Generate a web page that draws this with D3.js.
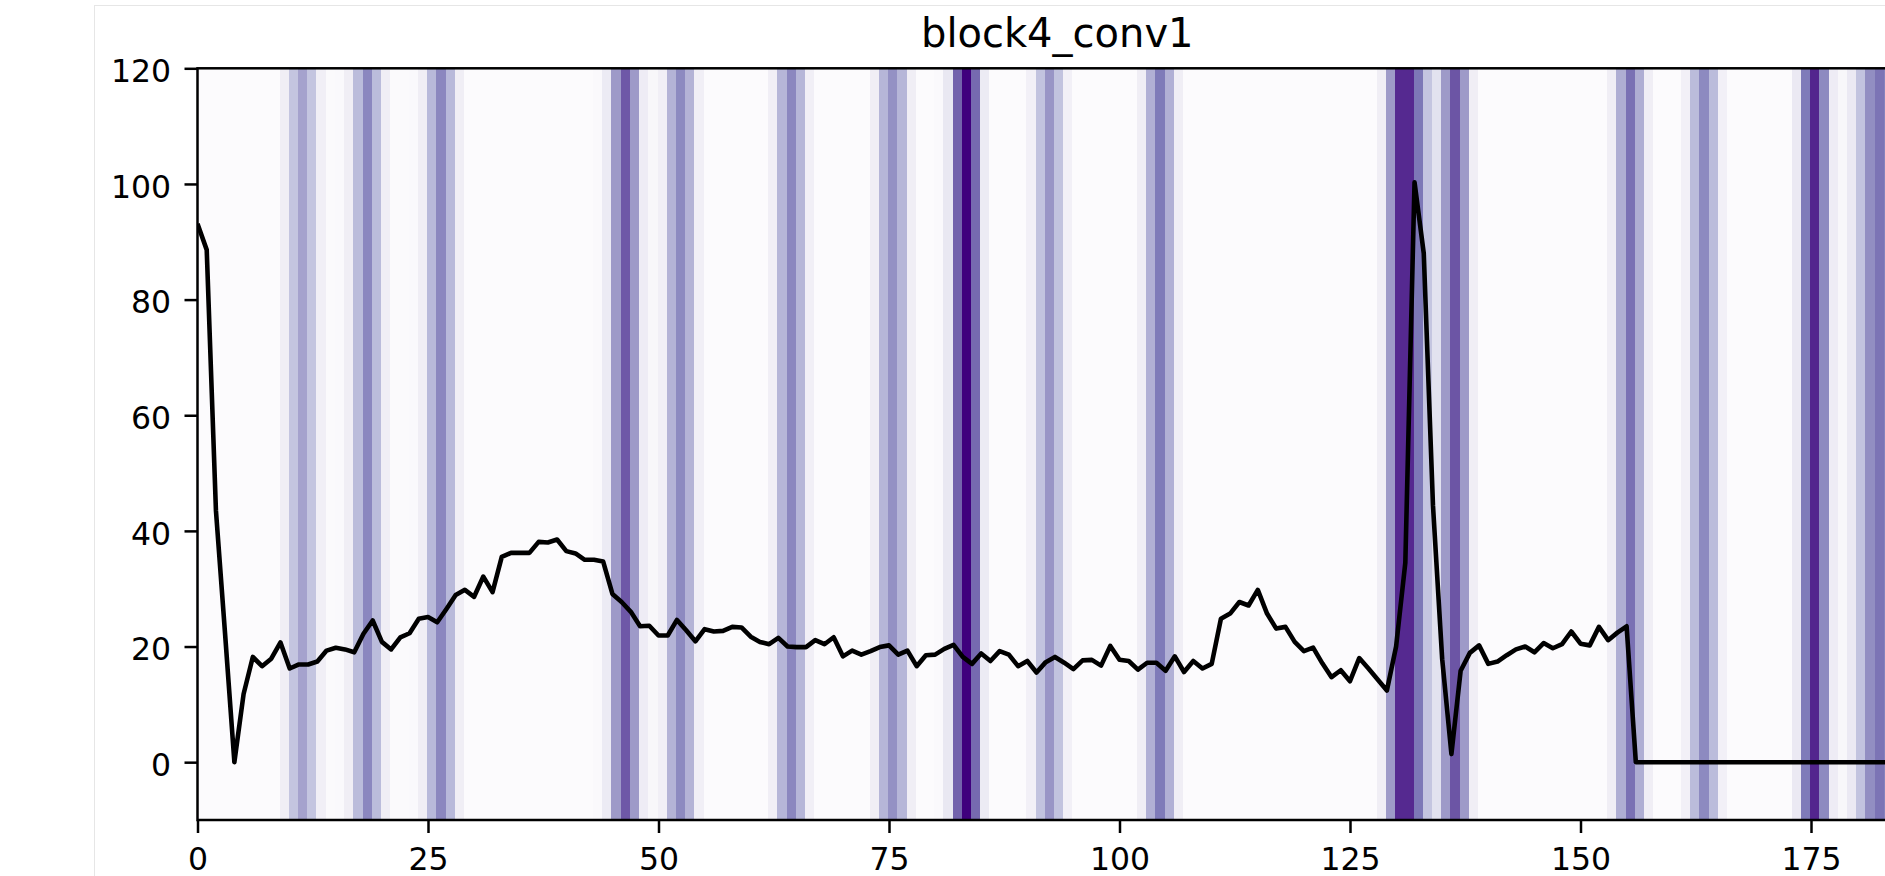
<!DOCTYPE html>
<html>
<head>
<meta charset="utf-8">
<script src="https://cdn.jsdelivr.net/npm/d3@7"></script>
<style>
  body { margin: 0; background: #ffffff; }
  svg { display: block; }
  text { font-family: "DejaVu Sans", sans-serif; }
</style>
</head>
<body>
<div id="grafico"></div>
<script>
// Titulo del grafico
var title = "block4_conv1";

// Ticks de los ejes
var xTicks = [0, 25, 50, 75, 100, 125, 150, 175];
var yTicks = [0, 20, 40, 60, 80, 100, 120];

// Senal (un valor por muestra, 187 muestras)
var signal = [
  93.1, 88.6, 43.5, 22.0, 0.0, 11.8, 18.2, 16.6, 17.9, 20.7,
  16.2, 16.9, 16.9, 17.4, 19.3, 19.8, 19.5, 19.0, 22.2, 24.5,
  20.8, 19.5, 21.6, 22.3, 24.8, 25.1, 24.2, 26.5, 28.9, 29.8,
  28.6, 32.1, 29.4, 35.5, 36.2, 36.2, 36.2, 38.1, 38.0, 38.5,
  36.5, 36.1, 35.0, 35.0, 34.7, 29.1, 27.7, 26.0, 23.5, 23.6,
  21.9, 21.9, 24.6, 22.8, 20.9, 23.0, 22.6, 22.7, 23.4, 23.3,
  21.7, 20.8, 20.4, 21.5, 20.0, 19.9, 19.9, 21.1, 20.4, 21.6,
  18.3, 19.3, 18.6, 19.2, 19.9, 20.2, 18.6, 19.3, 16.6, 18.5,
  18.6, 19.6, 20.3, 18.2, 17.0, 18.8, 17.5, 19.2, 18.6, 16.6,
  17.5, 15.5, 17.3, 18.2, 17.2, 16.1, 17.6, 17.7, 16.7, 20.1,
  17.7, 17.5, 16.0, 17.2, 17.2, 15.8, 18.3, 15.6, 17.5, 16.2,
  17.0, 24.8, 25.7, 27.7, 27.1, 29.8, 25.7, 23.1, 23.4, 20.8,
  19.2, 19.8, 17.1, 14.7, 15.9, 14.0, 18.0, 16.2, 14.3, 12.4,
  20.0, 34.5, 100.3, 88.0, 44.4, 17.8, 1.4, 15.8, 18.9, 20.2,
  17.0, 17.4, 18.5, 19.5, 20.0, 19.0, 20.6, 19.7, 20.4, 22.6,
  20.5, 20.2, 23.4, 21.1, 22.4, 23.5, 0.0, 0.0, 0.0, 0.0,
  0.0, 0.0, 0.0, 0.0, 0.0, 0.0, 0.0, 0.0, 0.0, 0.0,
  0.0, 0.0, 0.0, 0.0, 0.0, 0.0, 0.0, 0.0, 0.0, 0.0,
  0.0, 0.0, 0.0, 0.0, 0.0, 0.0, 0.0
];

// Mapa de calor (activacion 0..1 por muestra)
var heat = [
  0, 0, 0, 0, 0, 0, 0, 0, 0, 0.12,
  0.34, 0.47, 0.34, 0.11, 0.01, 0.02, 0.12, 0.38, 0.58, 0.38,
  0.12, 0.01, 0.01, 0.02, 0.12, 0.39, 0.58, 0.39, 0.12, 0,
  0, 0, 0, 0, 0, 0, 0, 0, 0, 0,
  0, 0, 0, 0.02, 0.14, 0.5, 0.73, 0.5, 0.13, 0.04,
  0.11, 0.41, 0.57, 0.41, 0.11, 0, 0, 0, 0, 0,
  0, 0, 0.11, 0.4, 0.58, 0.4, 0.11, 0, 0, 0,
  0, 0, 0, 0.12, 0.4, 0.54, 0.4, 0.12, 0, 0,
  0.02, 0.16, 0.7, 1.0, 0.68, 0.14, 0, 0, 0, 0,
  0.1, 0.35, 0.52, 0.35, 0.1, 0, 0, 0, 0, 0,
  0, 0, 0.12, 0.42, 0.63, 0.42, 0.12, 0, 0, 0,
  0, 0, 0, 0, 0, 0, 0, 0, 0, 0,
  0, 0, 0, 0, 0, 0, 0, 0, 0.12, 0.5,
  0.87, 0.87, 0.64, 0.34, 0.2, 0.5, 0.74, 0.5, 0.12, 0,
  0, 0, 0, 0, 0, 0, 0, 0, 0, 0,
  0, 0, 0, 0.12, 0.43, 0.66, 0.43, 0.12, 0, 0,
  0, 0.1, 0.38, 0.57, 0.38, 0.1, 0, 0, 0, 0,
  0, 0, 0, 0.15, 0.63, 0.88, 0.57, 0.13, 0.04, 0.15,
  0.35, 0.55, 0.65, 0.6, 0.45, 0.2, 0.05
];

// Dimensiones
var width = 1885,
    height = 876;
var margin = {top: 68.3, left: 197.5, bottom: 820};
var xMax = 186.5;
var pxPerUnit = 9.22;

var svg = d3.select("#grafico")
  .append("svg")
  .attr("width", width)
  .attr("height", height);

// marco de la figura
svg.append("rect")
  .attr("x", 94.5).attr("y", 5.5)
  .attr("width", width).attr("height", height)
  .style("fill", "#ffffff")
  .style("stroke", "#e6e6e6")
  .style("stroke-width", 1);

// Escalas
var x = d3.scaleLinear()
  .domain([0, xMax])
  .range([margin.left, margin.left + xMax * pxPerUnit]);
var y = d3.scaleLinear()
  .domain([-10, 120])
  .range([margin.bottom, margin.top]);

var color = d3.scaleLinear()
  .domain(d3.range(9).map(function(i) { return i / 8; }))
  .range(d3.schemePurples[9]);

svg.append("clipPath")
  .attr("id", "area")
  .append("rect")
  .attr("x", x(0)).attr("y", y(120))
  .attr("width", x(xMax) - x(0))
  .attr("height", y(-10) - y(120));

var plot = svg.append("g").attr("clip-path", "url(#area)");

/************ Mapa de calor ***************/
plot.selectAll("rect.cell")
  .data(heat)
  .enter()
  .append("rect")
  .attr("class", "cell")
  .attr("x", function(d, i) { return x(i - 0.1); })
  .attr("y", y(120))
  .attr("width", function(d, i) { return x(i + 0.9) - x(i - 0.1) + 0.5; })
  .attr("height", y(-10) - y(120))
  .attr("shape-rendering", "crispEdges")
  .style("fill", function(d) { return color(d); });

/************ Senal ***************/
var line = d3.line()
  .x(function(d, i) { return x(i); })
  .y(function(d) { return y(d); });

plot.append("path")
  .attr("d", line(signal))
  .style("fill", "none")
  .style("stroke", "#000000")
  .style("stroke-width", 4.6)
  .style("stroke-linejoin", "round");

/************ Ejes ***************/
var xAxis = svg.append("g")
  .attr("transform", "translate(0," + margin.bottom + ")")
  .call(d3.axisBottom(x).tickValues(xTicks).tickSize(13).tickPadding(14.5));

var yAxis = svg.append("g")
  .attr("transform", "translate(" + margin.left + ",0)")
  .call(d3.axisLeft(y).tickValues(yTicks).tickSize(13).tickPadding(13.5));

[xAxis, yAxis].forEach(function(ax) {
  ax.select(".domain").remove();
  ax.selectAll(".tick line")
    .style("stroke", "#000000")
    .style("stroke-width", 2.5);
  ax.selectAll(".tick text")
    .style("font-family", "DejaVu Sans")
    .style("font-size", "31.5px")
    .style("fill", "#000000");
});
yAxis.selectAll(".tick text").attr("dy", "0.42em");

// bordes del area
svg.append("rect")
  .attr("x", x(0)).attr("y", y(120))
  .attr("width", x(xMax) - x(0))
  .attr("height", y(-10) - y(120))
  .style("fill", "none")
  .style("stroke", "#000000")
  .style("stroke-width", 2.5);

// Titulo
svg.append("text")
  .attr("x", (x(0) + x(xMax)) / 2)
  .attr("y", 46.5)
  .style("text-anchor", "middle")
  .style("font-size", "40px")
  .style("fill", "#000000")
  .text(title);
</script>
</body>
</html>
